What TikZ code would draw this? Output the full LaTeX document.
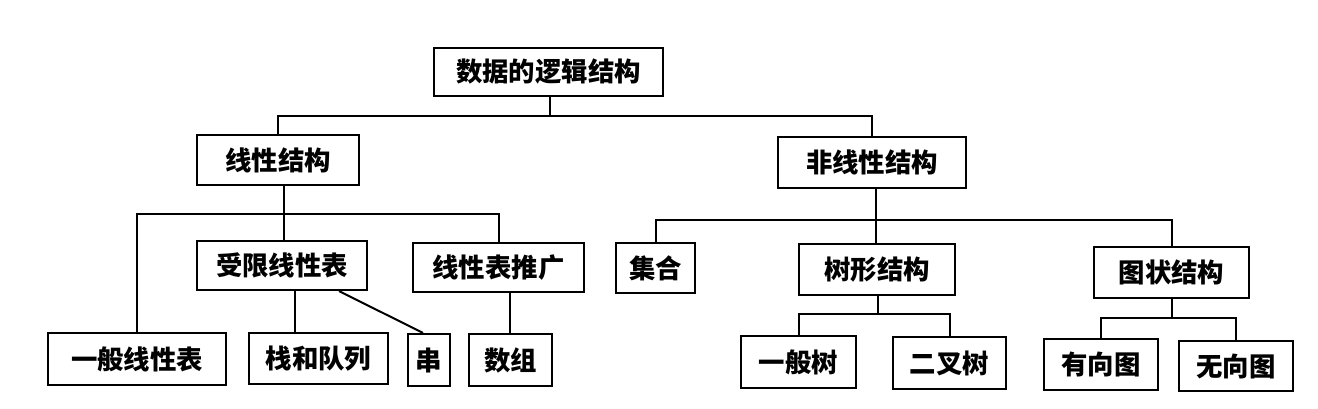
\documentclass[tikz,border=0pt]{standalone}
\usepackage{fontspec}
\setmainfont{Noto Sans CJK SC}
\begin{document}
\begin{tikzpicture}[x=0.5pt,y=-0.5pt,
  box/.style={draw, line width=1.1pt, inner sep=0pt, minimum width=#1, font=\bfseries\fontsize{13.2}{15}\selectfont},
  box/.default=20pt,
  wire/.style={line width=1pt}]
\useasboundingbox (0,0) rectangle (1318,408);
% level 1
\node[box, minimum width=114.5pt, minimum height=24pt] (root) at (548.5,72) {数据的逻辑结构};
% level 2
\node[box, minimum width=81pt, minimum height=25pt] (lin) at (278,160) {线性结构};
\node[box, minimum width=94pt, minimum height=25.5pt] (nonlin) at (872,162.5) {非线性结构};
% level 3
\node[box, minimum width=85pt, minimum height=24.5pt] (shouxian) at (282,265.5) {受限线性表};
\node[box, minimum width=85.5pt, minimum height=24.5pt] (tuiguang) at (498.5,267.5) {线性表推广};
\node[box, minimum width=39.5pt, minimum height=25pt] (jihe) at (655.5,268) {集合};
\node[box, minimum width=78pt, minimum height=25.5pt] (shu) at (877,269.5) {树形结构};
\node[box, minimum width=77.5pt, minimum height=25.5pt] (tu) at (1171.5,272.5) {图状结构};
% level 4
\node[box, minimum width=89pt, minimum height=26pt] (yiban) at (137,359) {一般线性表};
\node[box, minimum width=69.5pt, minimum height=25.5pt] (zhan) at (318.5,358.5) {栈和队列};
\node[box, minimum width=21pt, minimum height=26pt] (chuan) at (429,360) {串};
\node[box, minimum width=41.5pt, minimum height=26pt] (shuzu) at (510.5,360) {数组};
\node[box, minimum width=57.5pt, minimum height=26pt] (ybs) at (798.5,362) {一般树};
\node[box, minimum width=56.5pt, minimum height=26pt] (ecs) at (949.5,363) {二叉树};
\node[box, minimum width=57pt, minimum height=25.5pt] (yxt) at (1101,364.5) {有向图};
\node[box, minimum width=57pt, minimum height=25pt] (wxt) at (1236,366) {无向图};
% buses
\coordinate (b1) at (549.5,116);
\coordinate (b2) at (284,214);
\coordinate (b3) at (876,220);
\coordinate (b4) at (878,314);
\coordinate (b5) at (1172,318);
\draw[wire] (root.south -| b1) -- (b1);
\draw[wire] (lin.north) |- (b1) -| (nonlin.north);
\draw[wire] (lin.south -| b2) -- (shouxian.north -| b2);
\draw[wire] (yiban.north) |- (b2) -| (tuiguang.north);
\draw[wire] (shouxian.south -| 295,0) -- (zhan.north -| 295,0);
\draw[wire] (shouxian.south -| 339,0) -- (chuan.north -| 423,0);
\draw[wire] (tuiguang.south -| 509.5,0) -- (shuzu.north -| 509.5,0);
\draw[wire] (nonlin.south -| b3) -- (shu.north -| b3);
\draw[wire] (jihe.north) |- (b3) -| (tu.north);
\draw[wire] (shu.south -| b4) -- (b4);
\draw[wire] (ybs.north) |- (b4) -| (ecs.north);
\draw[wire] (tu.south -| b5) -- (b5);
\draw[wire] (yxt.north) |- (b5) -| (wxt.north);
\end{tikzpicture}
\end{document}
